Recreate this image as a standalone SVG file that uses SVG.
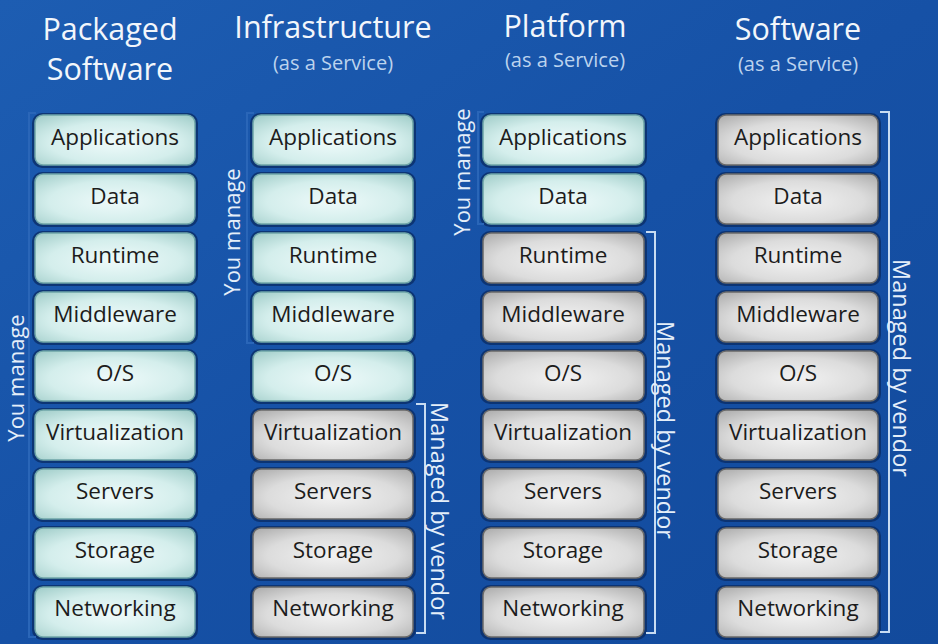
<svg xmlns="http://www.w3.org/2000/svg" width="938" height="644" viewBox="0 0 938 644">
<defs>
<linearGradient id="bg" x1="0" y1="0" x2="1" y2="1">
<stop offset="0" stop-color="#1d5db2"/>
<stop offset="0.5" stop-color="#1651a6"/>
<stop offset="1" stop-color="#124a9c"/>
</linearGradient>
<radialGradient id="teal" cx="0.5" cy="0.55" r="0.75">
<stop offset="0" stop-color="#eefafa"/>
<stop offset="0.55" stop-color="#d4eeec"/>
<stop offset="1" stop-color="#9ccac6"/>
</radialGradient>
<radialGradient id="gray" cx="0.5" cy="0.55" r="0.75">
<stop offset="0" stop-color="#f2f2f2"/>
<stop offset="0.55" stop-color="#dcdcdc"/>
<stop offset="1" stop-color="#a8a8a8"/>
</radialGradient>
</defs>
<style>
.sh{fill:#0a2d66;opacity:0.8}
.t{fill:url(#teal);stroke:#6fa5a8;stroke-width:1.5}
.g{fill:url(#gray);stroke:#6a6a6a;stroke-width:1.5}
.lb{font-family:"Open Sans","Noto Sans","DejaVu Sans",sans-serif;font-size:22.5px;fill:#1c1c1c;text-anchor:middle}
.h{font-family:"Open Sans","Noto Sans","DejaVu Sans",sans-serif;font-size:30.5px;fill:#f2f6fb;text-anchor:middle}
.s{font-family:"Open Sans","Noto Sans","DejaVu Sans",sans-serif;font-size:20px;fill:#bcd3ee;text-anchor:middle}
.v{font-family:"Open Sans","Noto Sans","DejaVu Sans",sans-serif;font-size:22px;fill:#e4eef9;text-anchor:middle}
.vm{font-family:"Open Sans","Noto Sans","DejaVu Sans",sans-serif;font-size:23.5px;fill:#e4eef9;text-anchor:middle}
.br{fill:none;stroke:#c8dcf2;stroke-width:2}
.bd{fill:none;stroke:#2a66b8;stroke-width:2}
</style>
<rect width="938" height="644" fill="url(#bg)"/>

<g id="headers">
<text class="h" x="110" y="40">Packaged</text>
<text class="h" x="110" y="80">Software</text>
<text class="h" x="333" y="38">Infrastructure</text>
<text class="s" x="333" y="70">(as a Service)</text>
<text class="h" x="565" y="37">Platform</text>
<text class="s" x="565" y="67">(as a Service)</text>
<text class="h" x="798" y="40">Software</text>
<text class="s" x="798" y="71">(as a Service)</text>
</g>

<g id="col-packaged">
<g id="p-applications"><rect class="sh" x="32" y="113" width="166" height="55" rx="10"/><rect class="t" x="35" y="115" width="160" height="50" rx="8"/><text class="lb" x="115" y="145">Applications</text></g>
<g id="p-data"><rect class="sh" x="32" y="172" width="166" height="55" rx="10"/><rect class="t" x="35" y="174" width="160" height="50" rx="8"/><text class="lb" x="115" y="204">Data</text></g>
<g id="p-runtime"><rect class="sh" x="32" y="231" width="166" height="55" rx="10"/><rect class="t" x="35" y="233" width="160" height="50" rx="8"/><text class="lb" x="115" y="263">Runtime</text></g>
<g id="p-middleware"><rect class="sh" x="32" y="290" width="166" height="55" rx="10"/><rect class="t" x="35" y="292" width="160" height="50" rx="8"/><text class="lb" x="115" y="322">Middleware</text></g>
<g id="p-os"><rect class="sh" x="32" y="349" width="166" height="55" rx="10"/><rect class="t" x="35" y="351" width="160" height="50" rx="8"/><text class="lb" x="115" y="381">O/S</text></g>
<g id="p-virtualization"><rect class="sh" x="32" y="408" width="166" height="55" rx="10"/><rect class="t" x="35" y="410" width="160" height="50" rx="8"/><text class="lb" x="115" y="440">Virtualization</text></g>
<g id="p-servers"><rect class="sh" x="32" y="467" width="166" height="55" rx="10"/><rect class="t" x="35" y="469" width="160" height="50" rx="8"/><text class="lb" x="115" y="499">Servers</text></g>
<g id="p-storage"><rect class="sh" x="32" y="526" width="166" height="55" rx="10"/><rect class="t" x="35" y="528" width="160" height="50" rx="8"/><text class="lb" x="115" y="558">Storage</text></g>
<g id="p-networking"><rect class="sh" x="32" y="585" width="166" height="55" rx="10"/><rect class="t" x="35" y="587" width="160" height="50" rx="8"/><text class="lb" x="115" y="616">Networking</text></g>
</g>

<g id="col-iaas">
<g id="i-applications"><rect class="sh" x="250" y="113" width="166" height="55" rx="10"/><rect class="t" x="253" y="115" width="160" height="50" rx="8"/><text class="lb" x="333" y="145">Applications</text></g>
<g id="i-data"><rect class="sh" x="250" y="172" width="166" height="55" rx="10"/><rect class="t" x="253" y="174" width="160" height="50" rx="8"/><text class="lb" x="333" y="204">Data</text></g>
<g id="i-runtime"><rect class="sh" x="250" y="231" width="166" height="55" rx="10"/><rect class="t" x="253" y="233" width="160" height="50" rx="8"/><text class="lb" x="333" y="263">Runtime</text></g>
<g id="i-middleware"><rect class="sh" x="250" y="290" width="166" height="55" rx="10"/><rect class="t" x="253" y="292" width="160" height="50" rx="8"/><text class="lb" x="333" y="322">Middleware</text></g>
<g id="i-os"><rect class="sh" x="250" y="349" width="166" height="55" rx="10"/><rect class="t" x="253" y="351" width="160" height="50" rx="8"/><text class="lb" x="333" y="381">O/S</text></g>
<g id="i-virtualization"><rect class="sh" x="250" y="408" width="166" height="55" rx="10"/><rect class="g" x="253" y="410" width="160" height="50" rx="8"/><text class="lb" x="333" y="440">Virtualization</text></g>
<g id="i-servers"><rect class="sh" x="250" y="467" width="166" height="55" rx="10"/><rect class="g" x="253" y="469" width="160" height="50" rx="8"/><text class="lb" x="333" y="499">Servers</text></g>
<g id="i-storage"><rect class="sh" x="250" y="526" width="166" height="55" rx="10"/><rect class="g" x="253" y="528" width="160" height="50" rx="8"/><text class="lb" x="333" y="558">Storage</text></g>
<g id="i-networking"><rect class="sh" x="250" y="585" width="166" height="55" rx="10"/><rect class="g" x="253" y="587" width="160" height="50" rx="8"/><text class="lb" x="333" y="616">Networking</text></g>
</g>

<g id="col-paas">
<g id="pa-applications"><rect class="sh" x="480" y="113" width="167" height="55" rx="10"/><rect class="t" x="483" y="115" width="161" height="50" rx="8"/><text class="lb" x="563" y="145">Applications</text></g>
<g id="pa-data"><rect class="sh" x="480" y="172" width="167" height="55" rx="10"/><rect class="t" x="483" y="174" width="161" height="50" rx="8"/><text class="lb" x="563" y="204">Data</text></g>
<g id="pa-runtime"><rect class="sh" x="480" y="231" width="167" height="55" rx="10"/><rect class="g" x="483" y="233" width="161" height="50" rx="8"/><text class="lb" x="563" y="263">Runtime</text></g>
<g id="pa-middleware"><rect class="sh" x="480" y="290" width="167" height="55" rx="10"/><rect class="g" x="483" y="292" width="161" height="50" rx="8"/><text class="lb" x="563" y="322">Middleware</text></g>
<g id="pa-os"><rect class="sh" x="480" y="349" width="167" height="55" rx="10"/><rect class="g" x="483" y="351" width="161" height="50" rx="8"/><text class="lb" x="563" y="381">O/S</text></g>
<g id="pa-virtualization"><rect class="sh" x="480" y="408" width="167" height="55" rx="10"/><rect class="g" x="483" y="410" width="161" height="50" rx="8"/><text class="lb" x="563" y="440">Virtualization</text></g>
<g id="pa-servers"><rect class="sh" x="480" y="467" width="167" height="55" rx="10"/><rect class="g" x="483" y="469" width="161" height="50" rx="8"/><text class="lb" x="563" y="499">Servers</text></g>
<g id="pa-storage"><rect class="sh" x="480" y="526" width="167" height="55" rx="10"/><rect class="g" x="483" y="528" width="161" height="50" rx="8"/><text class="lb" x="563" y="558">Storage</text></g>
<g id="pa-networking"><rect class="sh" x="480" y="585" width="167" height="55" rx="10"/><rect class="g" x="483" y="587" width="161" height="50" rx="8"/><text class="lb" x="563" y="616">Networking</text></g>
</g>

<g id="col-saas">
<g id="s-applications"><rect class="sh" x="715" y="113" width="166" height="55" rx="10"/><rect class="g" x="718" y="115" width="160" height="50" rx="8"/><text class="lb" x="798" y="145">Applications</text></g>
<g id="s-data"><rect class="sh" x="715" y="172" width="166" height="55" rx="10"/><rect class="g" x="718" y="174" width="160" height="50" rx="8"/><text class="lb" x="798" y="204">Data</text></g>
<g id="s-runtime"><rect class="sh" x="715" y="231" width="166" height="55" rx="10"/><rect class="g" x="718" y="233" width="160" height="50" rx="8"/><text class="lb" x="798" y="263">Runtime</text></g>
<g id="s-middleware"><rect class="sh" x="715" y="290" width="166" height="55" rx="10"/><rect class="g" x="718" y="292" width="160" height="50" rx="8"/><text class="lb" x="798" y="322">Middleware</text></g>
<g id="s-os"><rect class="sh" x="715" y="349" width="166" height="55" rx="10"/><rect class="g" x="718" y="351" width="160" height="50" rx="8"/><text class="lb" x="798" y="381">O/S</text></g>
<g id="s-virtualization"><rect class="sh" x="715" y="408" width="166" height="55" rx="10"/><rect class="g" x="718" y="410" width="160" height="50" rx="8"/><text class="lb" x="798" y="440">Virtualization</text></g>
<g id="s-servers"><rect class="sh" x="715" y="467" width="166" height="55" rx="10"/><rect class="g" x="718" y="469" width="160" height="50" rx="8"/><text class="lb" x="798" y="499">Servers</text></g>
<g id="s-storage"><rect class="sh" x="715" y="526" width="166" height="55" rx="10"/><rect class="g" x="718" y="528" width="160" height="50" rx="8"/><text class="lb" x="798" y="558">Storage</text></g>
<g id="s-networking"><rect class="sh" x="715" y="585" width="166" height="55" rx="10"/><rect class="g" x="718" y="587" width="160" height="50" rx="8"/><text class="lb" x="798" y="616">Networking</text></g>
</g>

<g id="brackets">
<path class="bd" d="M36,113 H29 V637 H36"/>
<path class="bd" d="M254,113 H247 V343 H254"/>
<path class="bd" d="M484,112 H478 V224 H484"/>
<path class="br" d="M416,404 H425 V633 H416"/>
<path class="br" d="M646,232 H655 V633 H646"/>
<path class="br" d="M880,112 H889 V632 H880"/>
</g>

<g id="labels">
<text class="v" transform="translate(24,378) rotate(-90)">You manage</text>
<text class="v" transform="translate(240,232) rotate(-90)">You manage</text>
<text class="v" transform="translate(470,172) rotate(-90)">You manage</text>
<text class="vm" transform="translate(431,511) rotate(90)">Managed by vendor</text>
<text class="vm" transform="translate(657,430) rotate(90)">Managed by vendor</text>
<text class="vm" transform="translate(893,368) rotate(90)">Managed by vendor</text>
</g>
</svg>
